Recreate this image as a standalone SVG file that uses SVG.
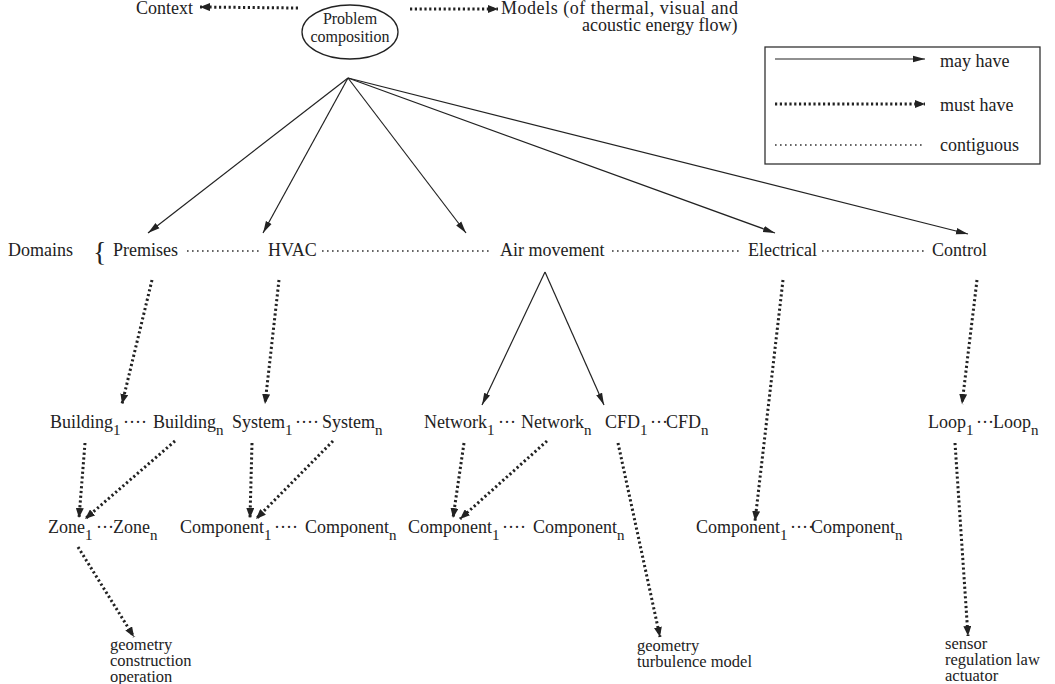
<svg xmlns="http://www.w3.org/2000/svg" width="1055" height="684" viewBox="0 0 1055 684">
  <defs>
    <style>
      text { font-family: "Liberation Serif", "Times New Roman", serif; font-size: 18px; fill: #222; }
      .sub { font-size: 15px; }
      .small { font-size: 16px; }
      .lbl { font-size: 16.5px; }
      .brace { font-size: 28px; }
      .may { stroke: #222; stroke-width: 1.2; fill: none; marker-end: url(#headMay); }
      .must { stroke: #222; stroke-width: 3; stroke-dasharray: 2.2 2.6; fill: none; marker-end: url(#headMust); }
      .cont { stroke: #333; stroke-width: 1.6; stroke-dasharray: 1.6 3.4; fill: none; }
    </style>
    <marker id="headMay" viewBox="0 0 12 8" refX="12" refY="4" markerWidth="12" markerHeight="8" markerUnits="userSpaceOnUse" orient="auto">
      <path d="M0,0.8 L12,4 L0,7.2 z" fill="#222"/>
    </marker>
    <marker id="headMust" viewBox="0 0 10 8" refX="10" refY="4" markerWidth="10" markerHeight="8" markerUnits="userSpaceOnUse" orient="auto">
      <path d="M0,0 L10,4 L0,8 z" fill="#222"/>
    </marker>
  </defs>

  <rect width="1055" height="684" fill="#fff"/>

  <!-- legend -->
  <g id="legend">
    <rect x="765" y="47" width="275" height="117" fill="none" stroke="#333" stroke-width="1.3"/>
    <line class="may" x1="775" y1="59" x2="925" y2="59"/>
    <text x="940" y="67">may have</text>
    <line class="must" x1="775" y1="104" x2="925" y2="104"/>
    <text x="940" y="111">must have</text>
    <line class="cont" x1="775" y1="145" x2="925" y2="145"/>
    <text x="940" y="151">contiguous</text>
  </g>

  <!-- top level -->
  <g id="problem">
    <ellipse cx="350" cy="32" rx="48" ry="27" fill="none" stroke="#222" stroke-width="1.3"/>
    <text class="small" text-anchor="middle"><tspan x="350" y="24">Problem</tspan><tspan x="350" y="42">composition</tspan></text>
  </g>
  <g id="context"><text x="136" y="14">Context</text></g>
  <g id="models">
    <text><tspan x="501" y="14" textLength="237" lengthAdjust="spacing">Models (of thermal, visual and</tspan><tspan x="582" y="31">acoustic energy flow)</tspan></text>
  </g>

  <!-- domains -->
  <g id="domains">
    <text x="8" y="256">Domains</text>
    <text class="brace" x="93" y="261">{</text>
  </g>
  <g id="premises"><text x="113" y="256">Premises</text></g>
  <g id="hvac"><text x="268" y="256">HVAC</text></g>
  <g id="air-movement"><text x="500" y="256">Air movement</text></g>
  <g id="electrical"><text x="748" y="256">Electrical</text></g>
  <g id="control"><text x="932" y="256">Control</text></g>

  <!-- third level -->
  <g id="buildings">
    <text x="50" y="428">Building<tspan class="sub" dy="7">1</tspan><tspan x="123" dy="-7">····</tspan><tspan x="153">Building</tspan><tspan class="sub" dy="7">n</tspan></text>
  </g>
  <g id="systems">
    <text x="232" y="428">System<tspan class="sub" dy="7">1</tspan><tspan x="295" dy="-7">····</tspan><tspan x="322">System</tspan><tspan class="sub" dy="7">n</tspan></text>
  </g>
  <g id="networks">
    <text x="424" y="428">Network<tspan class="sub" dy="7">1</tspan><tspan x="498" dy="-7">···</tspan><tspan x="521">Network</tspan><tspan class="sub" dy="7">n</tspan></text>
  </g>
  <g id="cfds">
    <text x="605" y="428">CFD<tspan class="sub" dy="7">1</tspan><tspan x="650" dy="-7">···</tspan><tspan x="666">CFD</tspan><tspan class="sub" dy="7">n</tspan></text>
  </g>
  <g id="loops">
    <text x="928" y="428">Loop<tspan class="sub" dy="7">1</tspan><tspan x="976" dy="-7">···</tspan><tspan x="993">Loop</tspan><tspan class="sub" dy="7">n</tspan></text>
  </g>

  <!-- fourth level -->
  <g id="zones">
    <text x="48" y="533">Zone<tspan class="sub" dy="7">1</tspan><tspan x="96" dy="-7">···</tspan><tspan x="113">Zone</tspan><tspan class="sub" dy="7">n</tspan></text>
  </g>
  <g id="hvac-components">
    <text x="180" y="533">Component<tspan class="sub" dy="7">1</tspan><tspan x="274" dy="-7">····</tspan><tspan x="305">Component</tspan><tspan class="sub" dy="7">n</tspan></text>
  </g>
  <g id="air-components">
    <text x="408" y="533">Component<tspan class="sub" dy="7">1</tspan><tspan x="502" dy="-7">····</tspan><tspan x="533">Component</tspan><tspan class="sub" dy="7">n</tspan></text>
  </g>
  <g id="electrical-components">
    <text x="696" y="533">Component<tspan class="sub" dy="7">1</tspan><tspan x="790" dy="-7">····</tspan><tspan x="811">Component</tspan><tspan class="sub" dy="7">n</tspan></text>
  </g>

  <!-- attribute lists -->
  <g id="zone-attributes">
    <text class="lbl"><tspan x="110" y="650">geometry</tspan><tspan x="110" y="666">construction</tspan><tspan x="110" y="682">operation</tspan></text>
  </g>
  <g id="cfd-attributes">
    <text class="lbl"><tspan x="637" y="651">geometry</tspan><tspan x="637" y="667">turbulence model</tspan></text>
  </g>
  <g id="loop-attributes">
    <text class="lbl"><tspan x="945" y="649">sensor</tspan><tspan x="945" y="665">regulation law</tspan><tspan x="945" y="681">actuator</tspan></text>
  </g>

  <!-- connectors -->
  <g id="connectors">
    <!-- must have: top -->
    <line class="must" x1="298" y1="8" x2="200" y2="7"/>
    <line class="must" x1="410" y1="9" x2="498" y2="9"/>
    <!-- may have: problem to domains -->
    <line class="may" x1="348" y1="78" x2="148" y2="233"/>
    <line class="may" x1="348" y1="78" x2="263" y2="233"/>
    <line class="may" x1="348" y1="78" x2="466" y2="233"/>
    <line class="may" x1="348" y1="78" x2="775" y2="233"/>
    <line class="may" x1="348" y1="78" x2="968" y2="234"/>
    <!-- contiguous domains -->
    <line class="cont" x1="187" y1="251" x2="260" y2="251"/>
    <line class="cont" x1="322" y1="251" x2="492" y2="251"/>
    <line class="cont" x1="612" y1="251" x2="742" y2="251"/>
    <line class="cont" x1="822" y1="251" x2="926" y2="251"/>
    <!-- may have: air movement -->
    <line class="may" x1="545" y1="272" x2="482" y2="405"/>
    <line class="may" x1="545" y1="272" x2="604" y2="405"/>
    <!-- must have: domains down -->
    <line class="must" x1="152" y1="280" x2="122" y2="404"/>
    <line class="must" x1="279" y1="280" x2="265" y2="404"/>
    <line class="must" x1="783" y1="280" x2="755" y2="521"/>
    <line class="must" x1="977" y1="280" x2="962" y2="404"/>
    <!-- must have: third to fourth level -->
    <line class="must" x1="85" y1="443" x2="79" y2="518"/>
    <line class="must" x1="175" y1="441" x2="85" y2="519"/>
    <line class="must" x1="252" y1="443" x2="250" y2="518"/>
    <line class="must" x1="333" y1="441" x2="256" y2="519"/>
    <line class="must" x1="464" y1="443" x2="453" y2="518"/>
    <line class="must" x1="547" y1="441" x2="460" y2="519"/>
    <!-- must have: to attribute lists -->
    <line class="must" x1="618" y1="443" x2="660" y2="637"/>
    <line class="must" x1="78" y1="547" x2="134" y2="637"/>
    <line class="must" x1="955" y1="443" x2="968" y2="636"/>
  </g>
</svg>
